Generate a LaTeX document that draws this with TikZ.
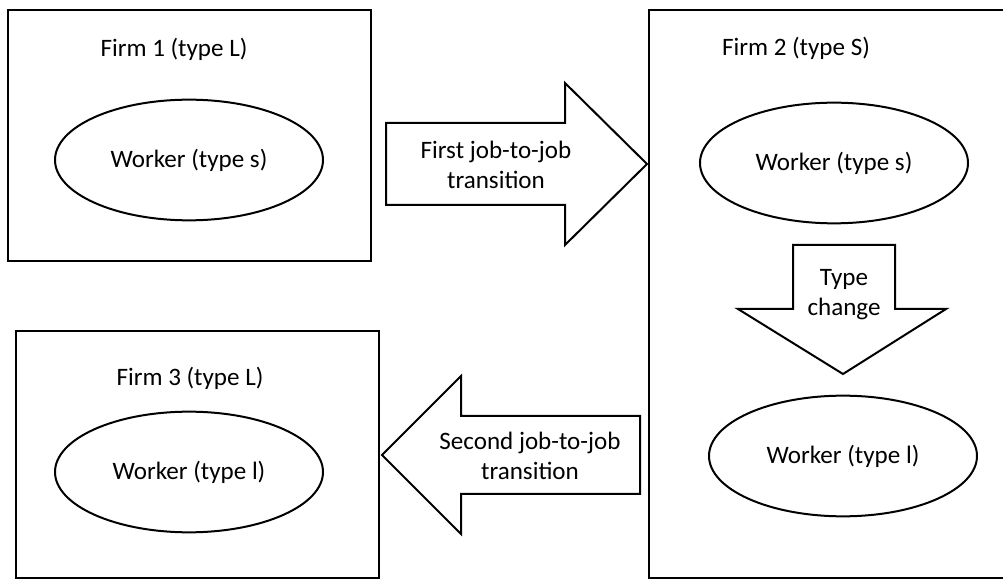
\documentclass[tikz,border=0pt]{standalone}
\usepackage{fontspec}
\setmainfont{Carlito}
\usetikzlibrary{shapes.geometric}
\begin{document}
\begin{tikzpicture}[x=0.75pt,y=-0.75pt,
  font=\fontsize{18.8}{22.5}\selectfont,
  firmbox/.style={draw=black, line width=2.2pt, inner sep=0pt},
  thinfirmbox/.style={draw=black, line width=1.7pt, inner sep=0pt},
  worker/.style={ellipse, draw=black, line width=1.5pt, minimum width=201pt, minimum height=90.5pt, inner sep=0pt},
  blockarrow/.style={draw=black, line width=1.5pt, line join=miter, fill=white},
  lbl/.style={align=center, inner sep=0pt, text=black}]
\useasboundingbox (0,0) rectangle (1003,580);

% Firm 1
\draw[firmbox] (8,10) rectangle (371,261);
\node[lbl] (f1) at (174,49) {Firm 1 (type L)};
\node[worker] (w1) at (189,160) {Worker (type s)};

% First arrow
\draw[blockarrow] (386,123) -- (565,123) -- (565,83) -- (647,164) -- (565,245) -- (565,205) -- (386,205) -- cycle;
\node[lbl] (t1) at (496,165) {First job-to-job\\transition};

% Firm 2 (open to the right)
\draw[firmbox] (1010,10) -- (649,10) -- (649,578) -- (1010,578);
\node[lbl] (f2) at (796,48) {Firm 2 (type S)};
\node[worker] (w2) at (834,163) {Worker (type s)};
\node[worker] (w3) at (843,456) {Worker (type l)};

% Type change arrow
\draw[blockarrow] (793,245) -- (895,245) -- (895,309) -- (946,309) -- (843,374) -- (738,309) -- (793,309) -- cycle;
\node[lbl] (tc) at (844,295) {Type\\change};

% Firm 3
\draw[thinfirmbox] (16,331) rectangle (379,578);
\node[lbl] (f3) at (190,378) {Firm 3 (type L)};
\node[worker] (w4) at (189,472) {Worker (type l)};

% Second arrow
\draw[blockarrow] (640,416) -- (461,416) -- (461,376) -- (382,455) -- (461,534) -- (461,494) -- (640,494) -- cycle;
\node[lbl] (t2) at (530,456) {Second job-to-job\\transition};
\end{tikzpicture}
\end{document}
